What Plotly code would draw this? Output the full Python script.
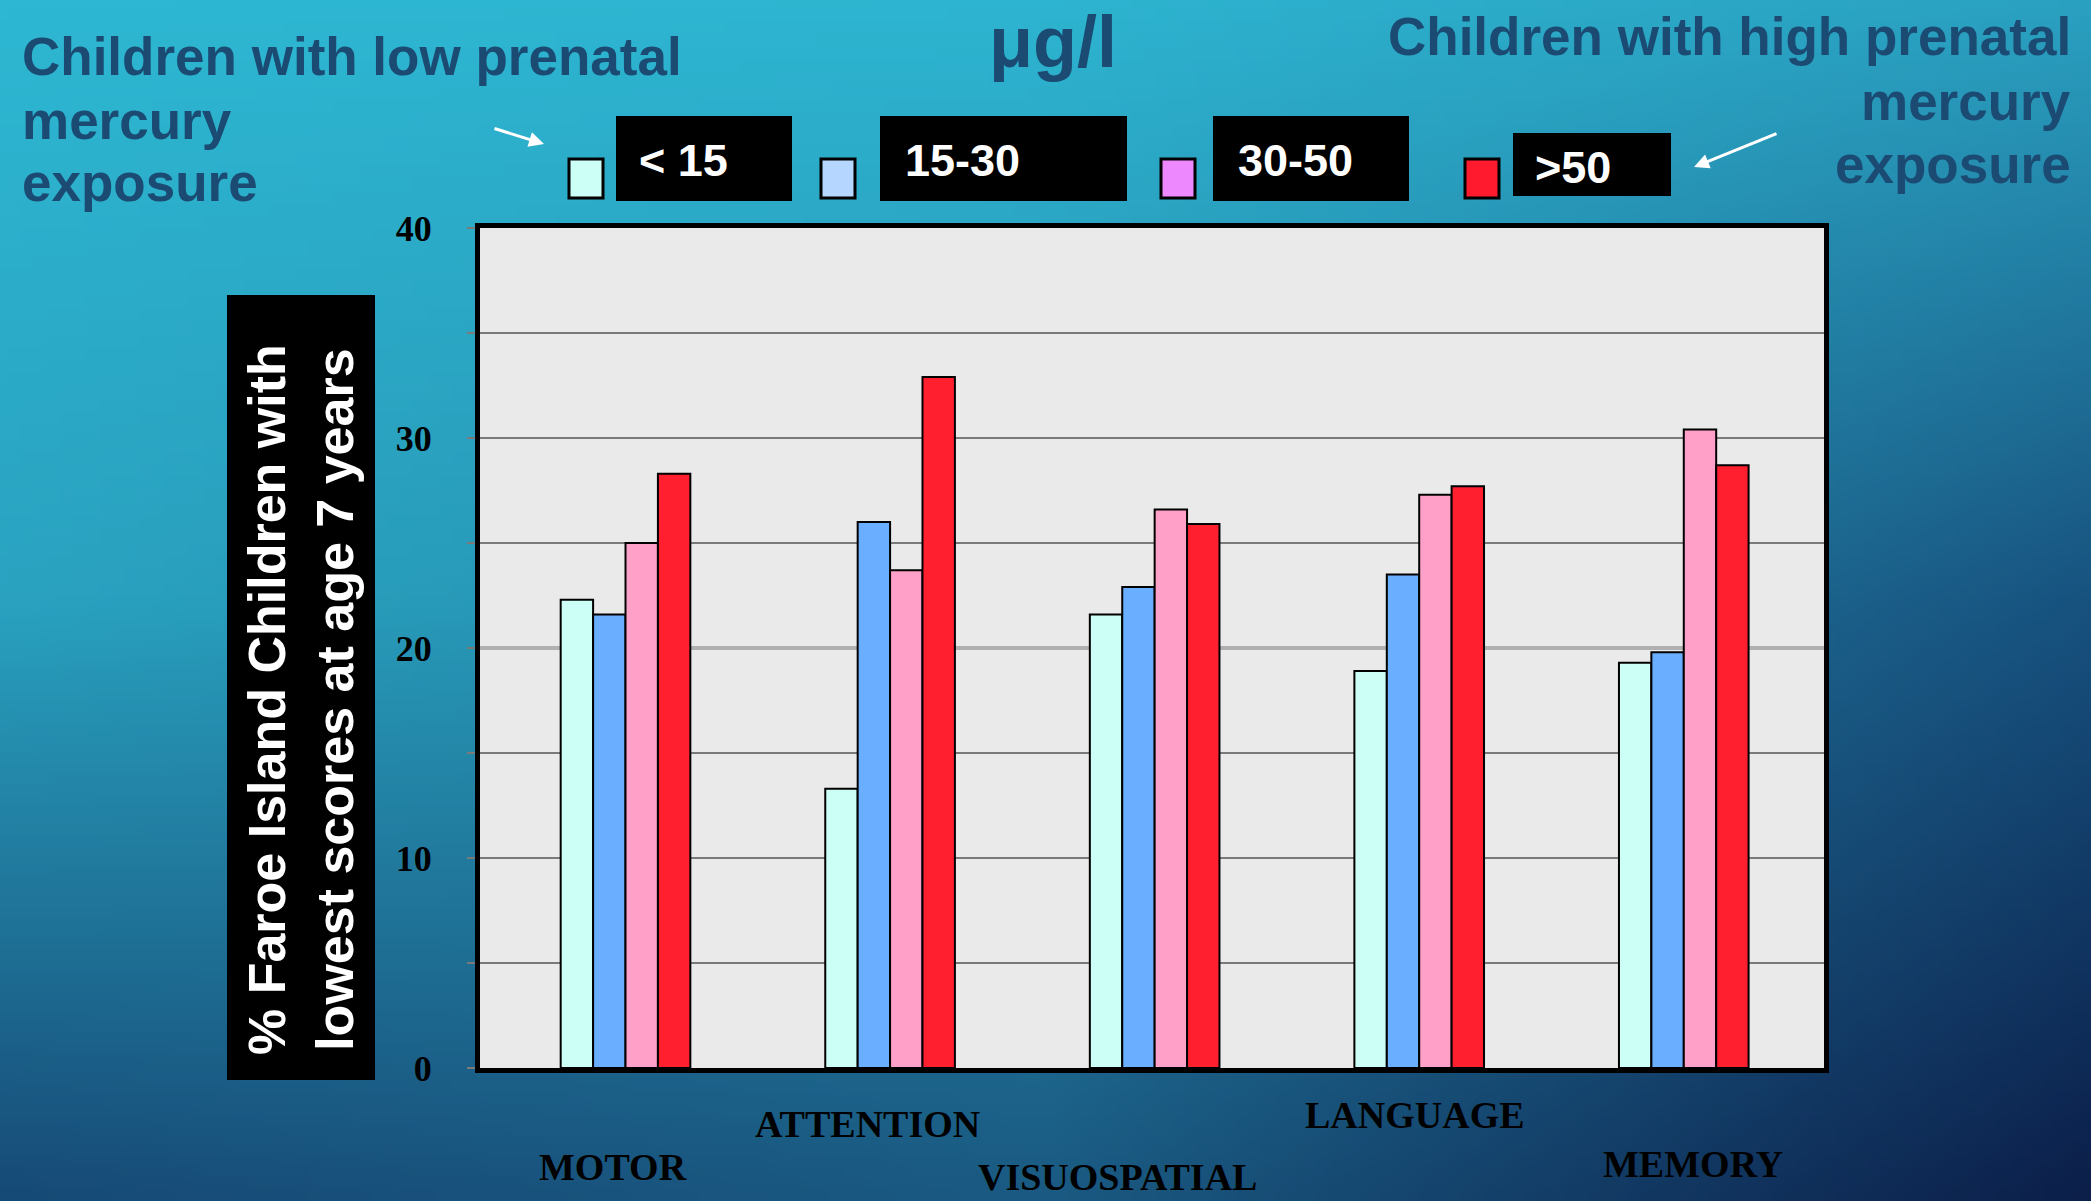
import base64
import struct
import zlib

import plotly.graph_objects as go

# ---- data -------------------------------------------------------------
categories = ["MOTOR", "ATTENTION", "VISUOSPATIAL", "LANGUAGE", "MEMORY"]
group_names = ["< 15", "15-30", "30-50", ">50"]
lt15 = [22.3, 13.3, 21.6, 18.9, 19.3]
r15_30 = [21.6, 26.0, 22.9, 23.5, 19.8]
r30_50 = [25.0, 23.7, 26.6, 27.3, 30.4]
gt50 = [28.3, 32.9, 25.9, 27.7, 28.7]
series = [lt15, r15_30, r30_50, gt50]
y_ticks = [0, 10, 20, 30, 40]
y_minor = [5, 15, 25, 35]
low_note = ["Children with low prenatal", "mercury", "exposure"]
high_note = ["Children with high prenatal", "mercury", "exposure"]

# ---- style ------------------------------------------------------------
bar_colors = ["#CCFFF5", "#6AAEFF", "#FFA0C8", "#FF1F2F"]
swatch_colors = ["#CCFFF5", "#B5D6FF", "#EE88FF", "#FF1A2E"]
navy_text = "#1B4A72"

W, H = 2091, 1201
PL, PR, PT, PB = 480, 1824, 228, 1068  # plot area in pixels
PW, PH = PR - PL, PB - PT


def px_x(px):
    return (px - PL) / PW


def px_y(py):
    return (PB - py) / PH


# ---- background gradient as a small PNG ------------------------------
def hex_rgb(h):
    h = h.lstrip("#")
    return [int(h[i:i + 2], 16) for i in (0, 2, 4)]


grid = [
    ["#2DB7D2", "#2DB4D0", "#2AA0C0"],
    ["#29A2C0", "#2690B0", "#17527F"],
    ["#164A76", "#1A5A82", "#0B1F4A"],
]
grid = [[hex_rgb(c) for c in row] for row in grid]


def lerp(a, b, t):
    return [a[i] + (b[i] - a[i]) * t for i in range(3)]


def sample(u, v):
    gx = u * 2
    gy = v * 2
    ix = min(int(gx), 1)
    iy = min(int(gy), 1)
    fx, fy = gx - ix, gy - iy
    top = lerp(grid[iy][ix], grid[iy][ix + 1], fx)
    bot = lerp(grid[iy + 1][ix], grid[iy + 1][ix + 1], fx)
    return [int(round(c)) for c in lerp(top, bot, fy)]


def make_png(w, h):
    rows = []
    for j in range(h):
        row = bytearray([0])
        for i in range(w):
            row.extend(sample(i / (w - 1), j / (h - 1)))
        rows.append(bytes(row))
    raw = b"".join(rows)

    def chunk(tag, data):
        c = struct.pack(">I", len(data)) + tag + data
        return c + struct.pack(">I", zlib.crc32(tag + data) & 0xFFFFFFFF)

    ihdr = struct.pack(">IIBBBBB", w, h, 8, 2, 0, 0, 0)
    return (b"\x89PNG\r\n\x1a\n" + chunk(b"IHDR", ihdr)
            + chunk(b"IDAT", zlib.compress(raw, 9)) + chunk(b"IEND", b""))


bg_src = "data:image/png;base64," + base64.b64encode(make_png(160, 92)).decode()

# ---- figure -----------------------------------------------------------
fig = go.Figure()
for name, vals, col in zip(group_names, series, bar_colors):
    fig.add_trace(go.Bar(
        x=categories, y=vals, name=name,
        marker=dict(color=col, line=dict(color="black", width=2)),
        showlegend=False,
    ))

shapes = [
    # plot background panel
    dict(type="rect", xref="paper", yref="paper", x0=0, x1=1, y0=0, y1=1,
         fillcolor="#EAEAEA", line=dict(width=0), layer="below"),
    # y-axis title box
    dict(type="rect", xref="paper", yref="paper",
         x0=px_x(227), x1=px_x(375), y0=px_y(1080), y1=px_y(295),
         fillcolor="black", line=dict(width=0), layer="below"),
]
# major gridlines (20 drawn lighter and heavier)
for v in y_ticks[1:-1]:
    shapes.append(dict(
        type="line", xref="paper", yref="y", x0=0, x1=1, y0=v, y1=v,
        line=dict(color="#B0B0B0" if v == 20 else "#7A7A7A",
                  width=4 if v == 20 else 2),
        layer="below"))

annotations = []

# legend: swatch + black box with white label
swatch_x = [569, 821, 1161, 1465]
box_x = [(616, 792), (880, 1127), (1213, 1409), (1513, 1671)]
box_y = [(116, 201), (116, 201), (116, 201), (133, 196)]
text_x = [637, 903, 1236, 1533]
text_y = [160, 160, 160, 167]
for i, name in enumerate(group_names):
    shapes.append(dict(
        type="rect", xref="paper", yref="paper",
        x0=px_x(swatch_x[i]), x1=px_x(swatch_x[i] + 34),
        y0=px_y(198), y1=px_y(159),
        fillcolor=swatch_colors[i], line=dict(color="black", width=3)))
    shapes.append(dict(
        type="rect", xref="paper", yref="paper",
        x0=px_x(box_x[i][0]), x1=px_x(box_x[i][1]),
        y0=px_y(box_y[i][1]), y1=px_y(box_y[i][0]),
        fillcolor="black", line=dict(width=0)))
    annotations.append(dict(
        text=f"<b>{name}</b>", xref="paper", yref="paper",
        x=px_x(text_x[i]), y=px_y(text_y[i]), xanchor="left", yanchor="middle",
        showarrow=False,
        font=dict(family="Liberation Sans, Arial", size=45, color="white")))

# headline texts, one annotation per line
note_font = dict(family="Liberation Sans, Arial", size=53, color=navy_text)
for line, cy in zip(low_note, [56, 120, 183]):
    annotations.append(dict(
        text=f"<b>{line}</b>", xref="paper", yref="paper",
        x=px_x(20), y=px_y(cy), xanchor="left", yanchor="middle",
        showarrow=False, font=note_font))
for line, cy in zip(high_note, [37, 101, 164]):
    annotations.append(dict(
        text=f"<b>{line}</b>", xref="paper", yref="paper",
        x=px_x(2073), y=px_y(cy), xanchor="right", yanchor="middle",
        showarrow=False, font=note_font))

annotations += [
    dict(text="<b>μg/l</b>", xref="paper", yref="paper",
         x=px_x(1053), y=px_y(42), xanchor="center", yanchor="middle",
         showarrow=False,
         font=dict(family="Liberation Sans, Arial", size=72, color=navy_text)),
    # y-axis title
    dict(text="<b>% Faroe Island Children with<br>lowest scores at age 7 years</b>",
         xref="paper", yref="paper", x=px_x(301), y=px_y(700),
         xanchor="center", yanchor="middle", textangle=-90, showarrow=False,
         font=dict(family="Liberation Sans, Arial", size=52, color="white")),
    # pointer arrows
    dict(text="", xref="paper", yref="paper", x=px_x(544), y=px_y(144),
         ax=-51, ay=-16, showarrow=True, arrowhead=2, arrowsize=1,
         arrowwidth=3, arrowcolor="white"),
    dict(text="", xref="paper", yref="paper", x=px_x(1694), y=px_y(167),
         ax=84, ay=-34, showarrow=True, arrowhead=2, arrowsize=1,
         arrowwidth=3, arrowcolor="white"),
]

# staggered category labels under the axis
label_y = [1167, 1124, 1177, 1115, 1164]
label_shift = [-13, -23, -37, -4, 9]
for cat, ly, sh in zip(categories, label_y, label_shift):
    annotations.append(dict(
        text=f"<b>{cat}</b>", xref="x", yref="paper", x=cat, y=px_y(ly),
        xshift=sh, xanchor="center", yanchor="middle", showarrow=False,
        font=dict(family="Liberation Serif, Times New Roman", size=38,
                  color="black")))

fig.update_layout(
    width=W, height=H,
    margin=dict(l=PL, r=W - PR, t=PT, b=H - PB, pad=0),
    paper_bgcolor="#1E6E98", plot_bgcolor="rgba(0,0,0,0)",
    barmode="group", bargap=0.51, bargroupgap=0,
    shapes=shapes, annotations=annotations,
    images=[dict(source=bg_src, xref="paper", yref="paper",
                 x=px_x(0), y=px_y(0), sizex=W / PW, sizey=H / PH,
                 xanchor="left", yanchor="top", sizing="stretch",
                 layer="below")],
    xaxis=dict(range=[-0.55, 4.53], showticklabels=False, ticks="",
               showgrid=False, zeroline=False, showline=True,
               linecolor="black", linewidth=5, mirror=True),
    yaxis=dict(range=[0, 40], tickvals=y_ticks, showgrid=False,
               zeroline=False, showline=True, linecolor="black",
               linewidth=5, mirror=True, ticks="outside", ticklen=8,
               tickwidth=2, tickcolor="#7A7A7A", ticklabelstandoff=28,
               tickfont=dict(family="Liberation Serif, Times New Roman",
                             size=36, color="black", weight="bold"),
               minor=dict(tickvals=y_minor, showgrid=True,
                          gridcolor="#7A7A7A", gridwidth=2,
                          ticks="outside", ticklen=8, tickwidth=2,
                          tickcolor="#7A7A7A")),
)

fig.write_html("out.html")
